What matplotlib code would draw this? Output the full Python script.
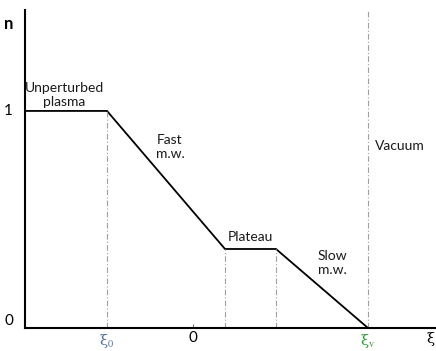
import matplotlib
matplotlib.use("Agg")
import matplotlib.pyplot as plt

plt.rcParams['mathtext.fontset'] = 'stix'

# profile of n(xi): break points
xi_pts = [-1.68, -0.86, 0.32, 0.83, 1.75]
n_pts = [1.0, 1.0, 0.364, 0.364, 0.0]

xi0, xi_p1, xi_p2, xi_v = -0.86, 0.32, 0.83, 1.75
n_plateau = 0.364

region_labels = ["Unperturbed\nplasma", "Fast\nm.w.", "Plateau", "Slow\nm.w.", "Vacuum"]
region_xy = [(-1.29, 1.075), (-0.23, 0.835), (0.57, 0.42), (1.39, 0.30), (2.07, 0.84)]

fig = plt.figure(figsize=(4.36, 3.51), dpi=100)
ax = fig.add_axes([25 / 436, 23 / 351, 1 - 25 / 436, 318 / 351])
ax.set_xlim(-1.68, 2.43)
ax.set_ylim(0, 1.465)

ax.plot(xi_pts, n_pts, color='black', lw=1.3, solid_joinstyle='miter')

dash = dict(color='#a0a0a0', lw=0.8, ls=(0, (5, 2, 1, 2)))
ax.plot([xi0, xi0], [0, 1.0], **dash)
ax.plot([xi_p1, xi_p1], [0, n_plateau], **dash)
ax.plot([xi_p2, xi_p2], [0, n_plateau], **dash)
ax.plot([xi_v, xi_v], [0, 1.465], **dash)

for s in ['top', 'right']:
    ax.spines[s].set_visible(False)
ax.spines['left'].set_linewidth(1.5)
ax.spines['bottom'].set_linewidth(1.5)

ax.set_xticks([0])
ax.set_xticklabels([])
ax.tick_params(axis='x', direction='in', length=3, width=0.8, color='#777777')
ax.set_yticks([])

font = 'Lato'
for lab, (x, y) in zip(region_labels, region_xy):
    ax.text(x, y, lab, ha='center', va='center', fontsize=10, family=font,
            color='#1a1a1a', linespacing=1.2)

ax.text(-1.80, 1.0, "1", ha='right', va='center', fontsize=11, family=font)
ax.text(-1.80, 0.0, "0", ha='right', va='bottom', fontsize=11, family=font)
ax.text(-1.80, 1.40, "n", ha='right', va='center', fontsize=12, family=font,
        fontweight='bold')

serif = 'DejaVu Serif'
ax.text(xi0, -0.02, 'ξ$_0$', ha='center', va='top', fontsize=10.5, family=serif,
        color='#4f6f9f')
ax.text(0, -0.012, "0", ha='center', va='top', fontsize=11, family=font)
ax.text(xi_v, -0.02, 'ξ$_\\mathrm{v}$', ha='center', va='top', fontsize=10.5,
        family=serif, color='#2e9a2e')
ax.text(2.37, -0.02, 'ξ', ha='center', va='top', fontsize=10.5, family=serif,
        color='black')

fig.savefig("out.png", dpi=100)
